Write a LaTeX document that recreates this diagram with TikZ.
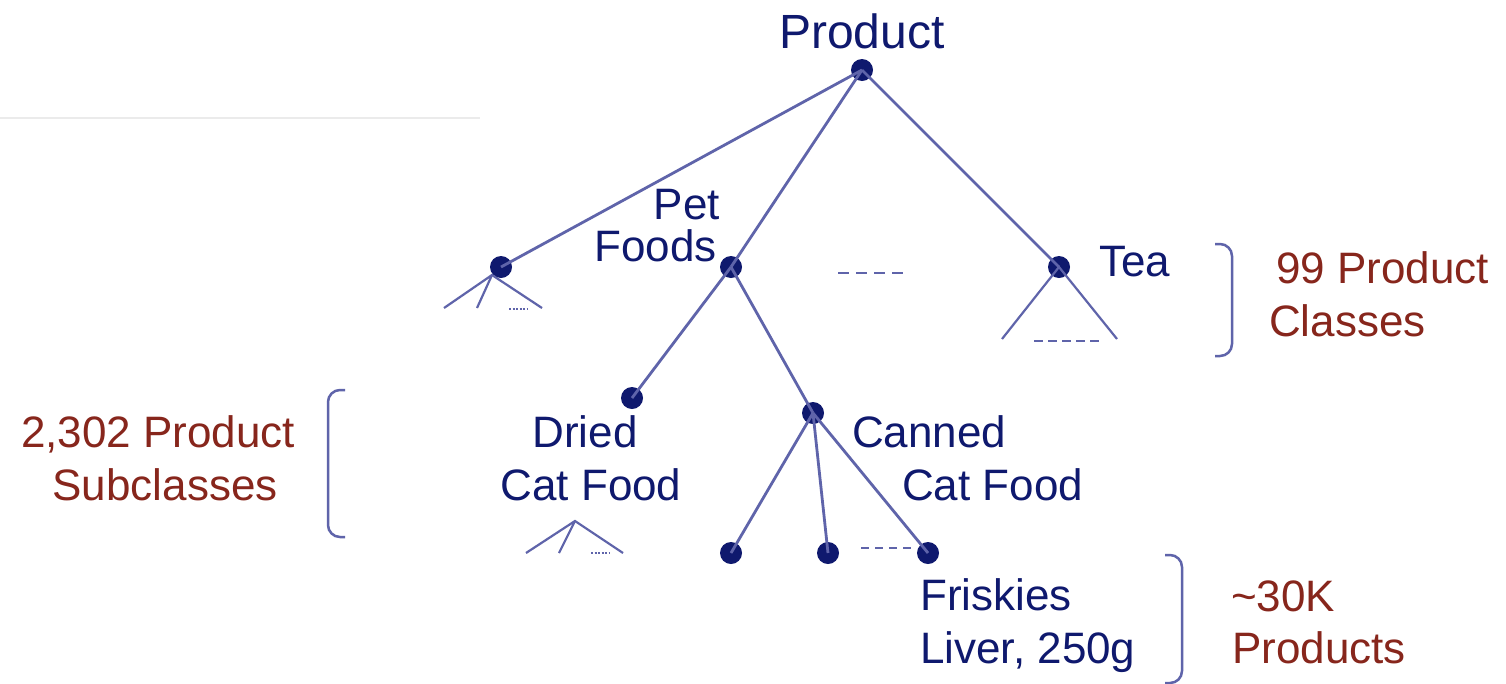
\documentclass[tikz,border=0pt]{standalone}
\usepackage{fontspec}
\setmainfont{Liberation Sans}
\definecolor{navy}{RGB}{15,25,110}
\definecolor{edgec}{RGB}{95,100,170}
\definecolor{redt}{RGB}{135,38,28}
\definecolor{faint}{RGB}{235,235,235}
\begin{document}
\begin{tikzpicture}[x=1pt,y=-1pt,
  dot/.style={circle,fill=navy,inner sep=0pt,minimum size=22pt},
  edge/.style={draw=edgec,line width=2.8pt},
  thin/.style={draw=edgec,line width=2.2pt},
  dsh/.style={draw=edgec,line width=2.4pt,dash pattern=on 11pt off 7pt},
  dtt/.style={draw=edgec,line width=2pt,dash pattern=on 2pt off 1.5pt},
  brace/.style={draw=edgec,line width=2.5pt,rounded corners=12pt},
  lbl/.style={text=navy,font=\fontsize{44}{53}\selectfont,inner sep=0pt},
  rlbl/.style={text=redt,font=\fontsize{44}{53}\selectfont,inner sep=0pt}]
\useasboundingbox (0,0) rectangle (1506,683);
\fill[white] (0,0) rectangle (1506,683);
\draw[faint,line width=1.2pt] (0,118) -- (480,118);
% nodes
\node[dot] (root) at (862,70) {};
\node[dot] (c1) at (501,267) {};
\node[dot] (pet) at (731,267) {};
\node[dot] (tea) at (1059,267) {};
\node[dot] (dried) at (632,398) {};
\node[dot] (canned) at (813,413) {};
\node[dot] (l1) at (731,553) {};
\node[dot] (l2) at (828,553) {};
\node[dot] (l3) at (928,553) {};
% edges
\draw[edge] (root.center) -- (c1.center);
\draw[edge] (root.center) -- (pet.center);
\draw[edge] (root.center) -- (tea.center);
\draw[edge] (pet.center) -- (dried.center);
\draw[edge] (pet.center) -- (canned.center);
\draw[edge] (canned.center) -- (l1.center);
\draw[edge] (canned.center) -- (l2.center);
\draw[edge] (canned.center) -- (l3.center);
% small subtrees
\coordinate (a1) at (492,275);
\coordinate (a1l) at (444,308);
\coordinate (a1m) at (477,308);
\coordinate (a1r) at (542,308);
\draw[thin] (a1l) -- (a1) -- (a1r);
\draw[thin] (a1) -- (a1m);
\coordinate (d1) at (509,309); \coordinate (d2) at (528,309);
\draw[dtt] (d1) -- (d2);
\coordinate (a2) at (575,521);
\coordinate (a2l) at (526,553);
\coordinate (a2m) at (559,553);
\coordinate (a2r) at (623,553);
\draw[thin] (a2l) -- (a2) -- (a2r);
\draw[thin] (a2) -- (a2m);
\coordinate (e1) at (591,553); \coordinate (e2) at (609,553);
\draw[dtt] (e1) -- (e2);
\coordinate (tl) at (1002,339);
\coordinate (tr) at (1117,339);
\draw[thin] (tl) -- (tea.center) -- (tr);
\coordinate (f1) at (1034,341); \coordinate (f2) at (1100,341);
\draw[dsh,dash pattern=on 9pt off 5pt] (f1) -- (f2);
\coordinate (g1) at (838,273); \coordinate (g2) at (904,273);
\draw[dsh] (g1) -- (g2);
\coordinate (h1) at (861,548); \coordinate (h2) at (912,548);
\draw[dsh,dash pattern=on 8pt off 6pt] (h1) -- (h2);
% braces
\coordinate (b1a) at (1215,244); \coordinate (b1b) at (1232,244);
\coordinate (b1c) at (1232,356); \coordinate (b1d) at (1215,356);
\draw[brace] (b1a) -- (b1b) -- (b1c) -- (b1d);
\coordinate (b2a) at (345,390); \coordinate (b2b) at (328,390);
\coordinate (b2c) at (328,537); \coordinate (b2d) at (345,537);
\draw[brace] (b2a) -- (b2b) -- (b2c) -- (b2d);
\coordinate (b3a) at (1165,555); \coordinate (b3b) at (1182,555);
\coordinate (b3c) at (1182,683); \coordinate (b3d) at (1165,683);
\draw[brace] (b3a) -- (b3b) -- (b3c) -- (b3d);
% labels
\node[lbl,anchor=base,font=\fontsize{48}{53}\selectfont] (tprod) at (862,48) {Product};
\node[lbl,anchor=base east] (tpet) at (720,219) {Pet};
\node[lbl,anchor=base east] (tfoods) at (717,261) {Foods};
\node[lbl,anchor=base west] (ttea) at (1099,276) {Tea};
\node[lbl,anchor=base] (tdried) at (585,447) {Dried};
\node[lbl,anchor=base] (tcat1) at (591,500) {Cat Food};
\node[lbl,anchor=base west] (tcanned) at (852,447) {Canned};
\node[lbl,anchor=base west] (tcat2) at (902,500) {Cat Food};
\node[lbl,anchor=base west] (tfr) at (920,610) {Friskies};
\node[lbl,anchor=base west] (tliv) at (920,663) {Liver, 250g};
\node[rlbl,anchor=base west] (r1) at (1276,283) {99 Product};
\node[rlbl,anchor=base west] (r2) at (1269,336) {Classes};
\node[rlbl,anchor=base] (r3) at (158,447) {2,302 Product};
\node[rlbl,anchor=base] (r4) at (165,500) {Subclasses};
\node[rlbl,anchor=base west] (r5) at (1231,611) {\textasciitilde30K};
\node[rlbl,anchor=base west] (r6) at (1232,663) {Products};
\end{tikzpicture}
\end{document}
